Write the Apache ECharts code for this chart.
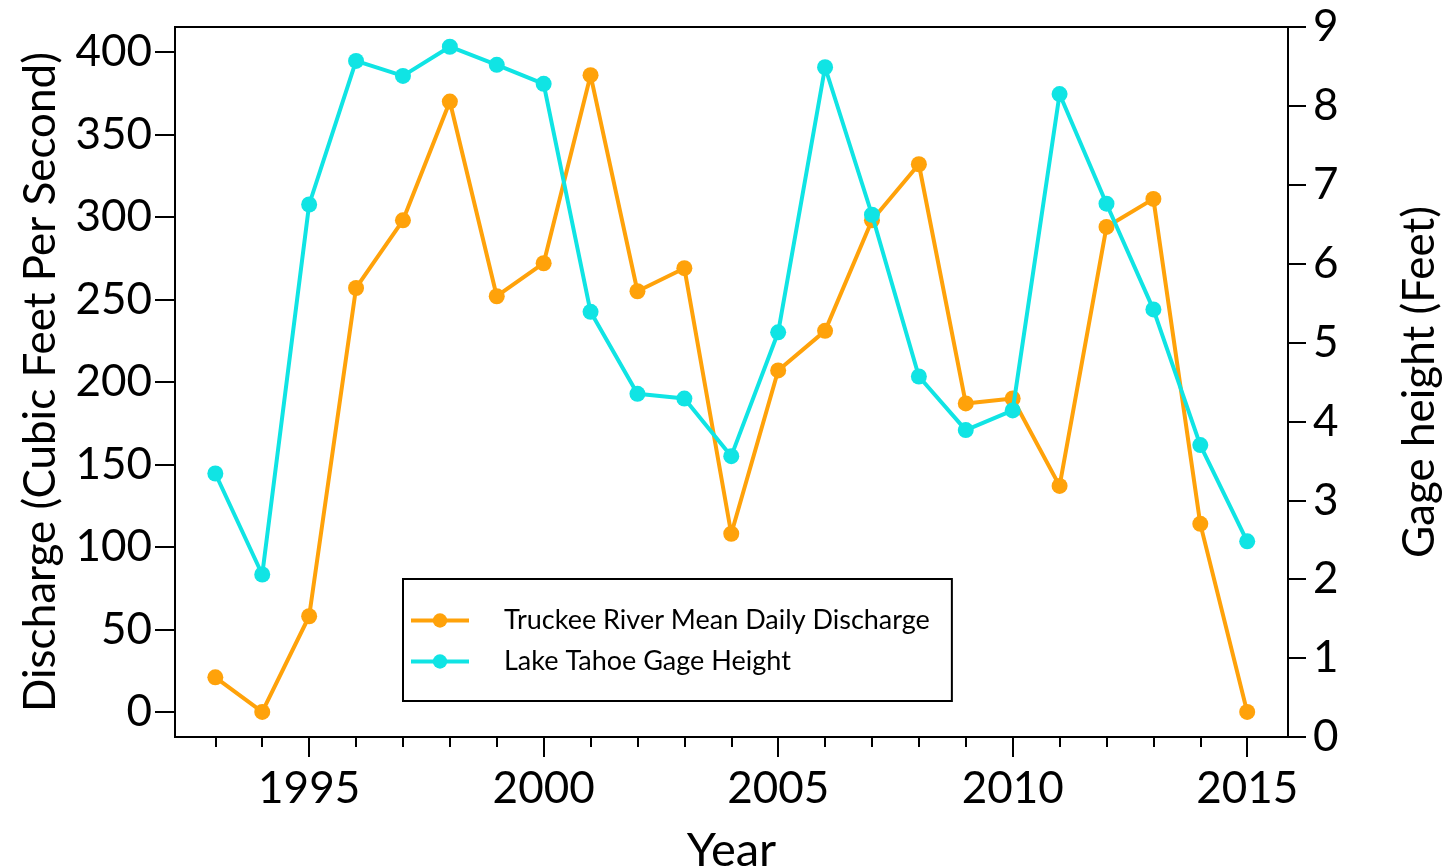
<!DOCTYPE html>
<html>
<head>
<meta charset="utf-8">
<script src="https://cdn.jsdelivr.net/npm/echarts@6/dist/echarts.min.js"></script>
<style>
html,body{margin:0;padding:0;background:#fff;}
#chart{width:1446px;height:866px;}
</style>
</head>
<body>
<div id="chart"></div>
<script>
const years = [1993,1994,1995,1996,1997,1998,1999,2000,2001,2002,2003,2004,2005,2006,2007,2008,2009,2010,2011,2012,2013,2014,2015];
const discharge = [21,0,58,257,298,370,252,272,386,255,269,108,207,231,298,332,187,190,137,294,311,114,0];
const gageHeight = [3.34,2.06,6.75,8.57,8.38,8.75,8.52,8.28,5.39,4.35,4.29,3.56,5.13,8.49,6.62,4.57,3.89,4.14,8.15,6.76,5.42,3.70,2.48];
const xLabelYears = [1995,2000,2005,2010,2015];
const leftTicks = [0,50,100,150,200,250,300,350,400];
const seriesNames = ['Truckee River Mean Daily Discharge','Lake Tahoe Gage Height'];

const FONT = 'Lato';
const chart = echarts.init(document.getElementById('chart'), null, {renderer:'canvas'});
const orange = '#FFA20A';
const cyan = '#10E4E4';

chart.setOption({
  backgroundColor:'#ffffff',
  animation:false,
  textStyle:{fontFamily:FONT,color:'#000'},
  grid:{left:175,top:27,right:158,bottom:129,containLabel:false,outerBoundsMode:'none',show:true,borderColor:'#000',borderWidth:2,backgroundColor:'transparent'},
  legend:{
    left:403, top:579,
    orient:'vertical',
    data:seriesNames,
    itemWidth:58, itemHeight:18, itemGap:14,
    padding:[28,22,26,6],
    borderColor:'#000', borderWidth:2, borderRadius:0,
    backgroundColor:'#fff',
    lineStyle:{width:4},
    textStyle:{fontFamily:FONT,fontSize:27,color:'#000',padding:[0,0,0,30]}
  },
  xAxis:[
    {
      type:'value', min:1992.14, max:2015.87,
      name:'Year', nameLocation:'middle', nameGap:90,
      nameTextStyle:{fontFamily:FONT,fontSize:47,color:'#000'},
      axisLine:{show:true,onZero:false,lineStyle:{color:'#000',width:2}},
      axisTick:{show:true,customValues:xLabelYears,length:20,inside:false,lineStyle:{color:'#000',width:2}},
      axisLabel:{show:true,customValues:xLabelYears,fontSize:44,fontFamily:FONT,color:'#000',margin:30,formatter:v=>String(v)},
      splitLine:{show:false}
    },
    {
      type:'value', min:1992.14, max:2015.87, position:'bottom',
      axisLine:{show:false,onZero:false},
      axisTick:{show:true,customValues:years,length:10,lineStyle:{color:'#000',width:2}},
      axisLabel:{show:false},
      splitLine:{show:false}
    }
  ],
  yAxis:[
    {
      type:'value', min:-15.2, max:415.2, position:'left',
      name:'Discharge (Cubic Feet Per Second)', nameLocation:'middle', nameGap:112, nameRotate:90,
      nameTextStyle:{fontFamily:FONT,fontSize:44,color:'#000'},
      axisLine:{show:true,onZero:false,lineStyle:{color:'#000',width:2}},
      axisTick:{show:true,customValues:leftTicks,length:20,lineStyle:{color:'#000',width:2}},
      axisLabel:{show:true,customValues:leftTicks,fontSize:44,fontFamily:FONT,color:'#000',margin:23},
      splitLine:{show:false}
    },
    {
      type:'value', min:0, max:9, interval:1, position:'right',
      name:'Gage height (Feet)', nameLocation:'middle', nameGap:110, nameRotate:90,
      nameTextStyle:{fontFamily:FONT,fontSize:44,color:'#000'},
      axisLine:{show:true,onZero:false,lineStyle:{color:'#000',width:2}},
      axisTick:{show:true,length:18,lineStyle:{color:'#000',width:2}},
      axisLabel:{show:true,fontSize:44,fontFamily:FONT,color:'#000',margin:25},
      splitLine:{show:false}
    }
  ],
  series:[
    {
      name:seriesNames[0], type:'line', xAxisIndex:0, yAxisIndex:0,
      data:years.map((y,i)=>[y,discharge[i]]),
      symbol:'circle', symbolSize:16,
      lineStyle:{color:orange,width:4},
      itemStyle:{color:orange},
      z:2
    },
    {
      name:seriesNames[1], type:'line', xAxisIndex:0, yAxisIndex:1,
      data:years.map((y,i)=>[y,gageHeight[i]]),
      symbol:'circle', symbolSize:16,
      lineStyle:{color:cyan,width:4},
      itemStyle:{color:cyan},
      z:3
    }
  ]
});
</script>
</body>
</html>
